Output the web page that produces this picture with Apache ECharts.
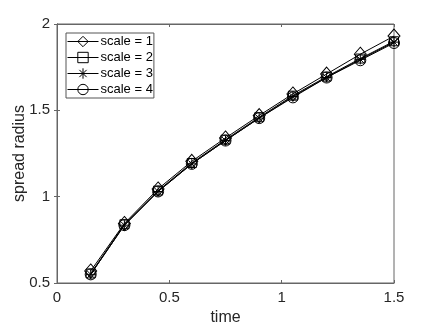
<!DOCTYPE html>
<html>
<head>
<meta charset="utf-8">
<script src="https://cdn.jsdelivr.net/npm/echarts@6/dist/echarts.min.js"></script>
<style>
  html, body { margin: 0; padding: 0; background: #fff; }
  #chart { width: 436px; height: 327px; }
</style>
</head>
<body>
<div id="chart"></div>
<script>
// time points on the x axis
const times = [0.15, 0.3, 0.45, 0.6, 0.75, 0.9, 1.05, 1.2, 1.35, 1.5];
// spread radius for each scale
const scale1 = [0.57, 0.845, 1.045, 1.205, 1.34, 1.47, 1.595, 1.71, 1.825, 1.93];
const scale2 = [0.555, 0.84, 1.035, 1.195, 1.33, 1.46, 1.585, 1.695, 1.80, 1.90];
const scale3 = [0.55, 0.835, 1.03, 1.19, 1.325, 1.455, 1.58, 1.69, 1.795, 1.895];
const scale4 = [0.55, 0.835, 1.03, 1.19, 1.325, 1.455, 1.575, 1.69, 1.79, 1.89];
const seriesNames = ['scale = 1', 'scale = 2', 'scale = 3', 'scale = 4'];
const xTicks = [0, 0.5, 1, 1.5];
const yTicks = [0.5, 1, 1.5, 2];

const star = 'path://M0,5L10,5M5,0L5,10M1.5,1.5L8.5,8.5M8.5,1.5L1.5,8.5';
const symbols = ['diamond', 'rect', star, 'circle'];
const sizes = [[12, 14], 9, 10, 11];
const axisColor = '#666';
const font = 'Liberation Sans, Arial, sans-serif';

function pairs(ys) {
  return times.map((t, i) => [t, ys[i]]);
}

const allData = [scale1, scale2, scale3, scale4];

const chart = echarts.init(document.getElementById('chart'));

const baseAxis = {
  axisLine: { show: true, lineStyle: { color: axisColor, width: 1 } },
  axisTick: { show: true, inside: true, length: 3, lineStyle: { color: axisColor } },
  splitLine: { show: false }
};

chart.setOption({
  animation: false,
  textStyle: { fontFamily: font },
  grid: {
    left: 57, right: 42, top: 24, bottom: 44,
    containLabel: false, outerBoundsMode: 'none',
    show: true, borderColor: axisColor, borderWidth: 1
  },
  legend: {
    orient: 'vertical',
    left: 66, top: 33,
    data: seriesNames,
    itemWidth: 31, itemHeight: 13, itemGap: 3,
    padding: [2, 1, 2, 1],
    borderColor: '#555', borderWidth: 1,
    backgroundColor: '#fff',
    lineStyle: { width: 1 },
    itemStyle: { borderWidth: 1 },
    textStyle: { fontSize: 13, color: '#000', fontFamily: font, padding: [0, 0, 0, -3] }
  },
  xAxis: [
    Object.assign({}, baseAxis, {
      type: 'value', min: 0, max: 1.5, interval: 0.5,
      name: 'time', nameLocation: 'middle', nameGap: 27, nameMoveOverlap: false,
      nameTextStyle: { fontSize: 16, color: '#262626' },
      axisLabel: { fontSize: 15, color: '#262626', margin: 7,
        formatter: v => xTicks.includes(v) ? String(v) : '' }
    }),
    Object.assign({}, baseAxis, {
      type: 'value', min: 0, max: 1.5, interval: 0.5, position: 'top',
      axisLabel: { show: false }
    })
  ],
  yAxis: [
    Object.assign({}, baseAxis, {
      type: 'value', min: 0.5, max: 2, interval: 0.5,
      name: 'spread radius', nameLocation: 'middle', nameGap: 29, nameMoveOverlap: false,
      nameTextStyle: { fontSize: 16, color: '#262626' },
      axisLabel: { fontSize: 15, color: '#262626', margin: 7,
        formatter: v => yTicks.includes(v) ? String(v) : '' }
    }),
    Object.assign({}, baseAxis, {
      type: 'value', min: 0.5, max: 2, interval: 0.5, position: 'right',
      axisLabel: { show: false }
    })
  ],
  series: allData.map((ys, i) => ({
    name: seriesNames[i],
    type: 'line',
    data: pairs(ys),
    symbol: symbols[i],
    symbolSize: sizes[i],
    showAllSymbol: true,
    lineStyle: { color: '#000', width: 1 },
    itemStyle: { color: 'rgba(0,0,0,0)', borderColor: '#000', borderWidth: 1 },
    emphasis: { disabled: true }
  }))
});
</script>
</body>
</html>
